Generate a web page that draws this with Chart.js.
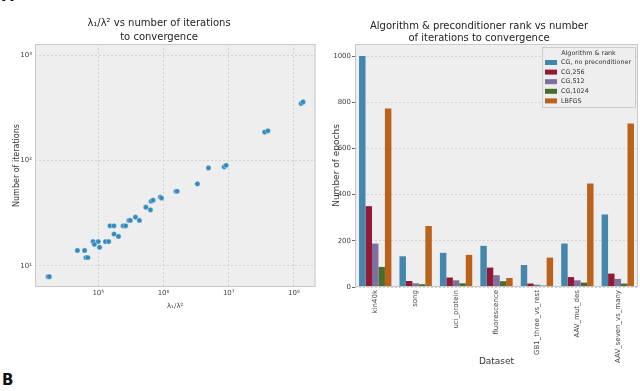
<!DOCTYPE html>
<html>
<head>
<meta charset="utf-8">
<script src="https://cdn.jsdelivr.net/npm/chart.js@4.4.0/dist/chart.umd.min.js"></script>
<style>
  body { margin: 0; background: #fff; width: 640px; height: 391px; overflow: hidden; position: relative; font-family: 'DejaVu Sans', sans-serif; }
  #left { position: absolute; left: 0; top: 0; }
  #right { position: absolute; left: 320px; top: 0; }
  .panel { position: absolute; left: 2px; font-weight: bold; font-size: 15px; color: #111; }
</style>
</head>
<body>
<div class="panel" style="top:-13px">A</div>
<canvas id="left" width="320" height="330"></canvas>
<canvas id="right" width="320" height="380"></canvas>
<div class="panel" style="top:371px">B</div>
<script>
// panel A: ratio vs iterations (log-log scatter)
const ratioValues = [17000, 17800, 47900, 61700, 64600, 69200, 83200, 87100, 100000, 104700,
  128800, 144500, 151400, 173800, 174500, 204200, 239900, 263000, 295100, 309000,
  371500, 426600, 537000, 631000, 645700, 691800, 891300, 933300, 1549000, 1622000,
  3311000, 4898000, 8511000, 9120000, 35480000, 39810000, 128800000, 138000000];
const iterationValues = [7.9, 7.9, 14, 14, 12, 12, 17, 16, 17, 15,
  17, 17, 24, 24, 20, 19, 24, 24, 27, 27,
  29, 27, 36, 34, 41, 42, 45, 44, 51, 51,
  60, 85, 87, 90, 186, 191, 347, 359];
const xTickValues = [1e5, 1e6, 1e7, 1e8];
const xTickLabels = ['10\u2075', '10\u2076', '10\u2077', '10\u2078'];
const yTickValues = [10, 100, 1000];
const yTickLabels = ['10\u00b9', '10\u00b2', '10\u00b3'];

// panel B: epochs per dataset and algorithm
const datasetNames = ['kin40k', 'song', 'uci_protein', 'fluorescence', 'GB1_three_vs_rest', 'AAV_mut_des', 'AAV_seven_vs_many'];
const algoLabels = ['CG, no preconditioner', 'CG,256', 'CG,512', 'CG,1024', 'LBFGS'];
const cgNone = [1000, 133, 148, 178, 95, 188, 314];
const cg256 = [350, 26, 41, 84, 15, 43, 58];
const cg512 = [188, 16, 29, 51, 10, 29, 35];
const cg1024 = [87, 12, 16, 25, 6, 19, 15];
const lbfgs = [773, 264, 139, 39, 127, 448, 708];
const algoColors = ['#4586ac', '#921a34', '#7d709e', '#486d2c', '#ba611b'];

Chart.defaults.font.family = "'DejaVu Sans', sans-serif";
Chart.defaults.color = '#444';

const frame = {
  id: 'frame',
  beforeDraw(chart) {
    const a = chart.chartArea, ctx = chart.ctx;
    ctx.save();
    ctx.fillStyle = '#eeeeee';
    ctx.fillRect(a.left, a.top, a.right - a.left, a.bottom - a.top);
    ctx.restore();
  },
  afterDraw(chart) {
    const a = chart.chartArea, ctx = chart.ctx;
    ctx.save();
    ctx.strokeStyle = '#c8c8c8';
    ctx.lineWidth = 1;
    ctx.strokeRect(a.left + 0.5, a.top + 0.5, a.right - a.left - 1, a.bottom - a.top - 1);
    ctx.restore();
  }
};

const insideLegend = {
  id: 'insideLegend',
  afterDraw(chart) {
    const opts = chart.options.plugins.insideLegend;
    if (!opts || !opts.display) return;
    const ctx = chart.ctx, a = chart.chartArea;
    const w = 93, h = 60;
    const x = a.right - w - 3, y = a.top + 3;
    ctx.save();
    ctx.fillStyle = '#eeeeee';
    ctx.strokeStyle = '#cccccc';
    ctx.fillRect(x, y, w, h);
    ctx.strokeRect(x + 0.5, y + 0.5, w, h);
    ctx.font = "6.4px 'DejaVu Sans'";
    ctx.fillStyle = '#333';
    ctx.textBaseline = 'middle';
    ctx.textAlign = 'center';
    ctx.fillText(opts.title, x + w / 2, y + 6);
    ctx.textAlign = 'left';
    chart.data.datasets.forEach((ds, i) => {
      const ry = y + 15.5 + i * 9.6;
      ctx.fillStyle = ds.backgroundColor;
      ctx.fillRect(x + 3, ry - 2.5, 12, 5);
      ctx.fillStyle = '#333';
      ctx.fillText(ds.label, x + 19, ry);
    });
    ctx.restore();
  }
};

Chart.register(frame, insideLegend);

function logTicks(min, max, majors) {
  const out = [];
  for (let d = Math.floor(Math.log10(min)); d <= Math.ceil(Math.log10(max)); d++) {
    for (let m = 1; m < 10; m++) {
      const v = m * Math.pow(10, d);
      if (v >= min && v <= max) out.push({ value: v, major: majors.includes(v) });
    }
  }
  return out;
}

const gridColor = ctx => (ctx.tick && ctx.tick.major) ? '#d2d2d2' : 'rgba(0,0,0,0)';

new Chart(document.getElementById('left').getContext('2d'), {
  type: 'scatter',
  data: {
    datasets: [{
      data: ratioValues.map((v, i) => ({ x: v, y: iterationValues[i] })),
      backgroundColor: '#348abd',
      borderColor: 'rgba(255,255,255,0.7)',
      borderWidth: 0.5,
      pointRadius: 2.6,
    }]
  },
  options: {
    responsive: false,
    animation: false,
    layout: { padding: { left: 0, right: 2, top: 0, bottom: 0 } },
    plugins: {
      legend: { display: false },
      tooltip: { enabled: false },
      title: {
        display: true,
        text: ['\u03bb\u2081/\u03bb\u00b2 vs number of iterations', 'to convergence'],
        color: '#222',
        font: { size: 10, weight: 'normal', lineHeight: 1.4 },
        padding: { top: 16, bottom: 0 }
      }
    },
    scales: {
      x: {
        type: 'logarithmic',
        min: 10715,
        max: 213800000,
        afterFit: s => { s.height = 43; },
        afterBuildTicks: s => { s.ticks = logTicks(s.min, s.max, xTickValues); },
        ticks: {
          autoSkip: false, maxRotation: 0, padding: 2,
          font: { size: 7 }, color: '#444',
          callback: v => { const i = xTickValues.indexOf(v); return i >= 0 ? xTickLabels[i] : ''; }
        },
        grid: { color: gridColor, drawTicks: false },
        border: { display: false, dash: [2, 2] },
        title: {
          display: true, text: '\u03bb\u2081/\u03bb\u00b2', color: '#444',
          font: { size: 7 }, padding: { top: 0, bottom: 20 }
        }
      },
      y: {
        type: 'logarithmic',
        min: 6.3,
        max: 1273,
        afterFit: s => { s.width = 35; },
        afterBuildTicks: s => { s.ticks = logTicks(s.min, s.max, yTickValues); },
        ticks: {
          autoSkip: false, padding: 3,
          font: { size: 7 }, color: '#444',
          callback: v => { const i = yTickValues.indexOf(v); return i >= 0 ? yTickLabels[i] : ''; }
        },
        grid: { color: gridColor, drawTicks: false },
        border: { display: false, dash: [2, 2] },
        title: {
          display: true, text: 'Number of iterations', color: '#333',
          font: { size: 8 }, padding: { top: 12, bottom: 0 }
        }
      }
    }
  }
});

const algoSeries = [cgNone, cg256, cg512, cg1024, lbfgs];

new Chart(document.getElementById('right').getContext('2d'), {
  type: 'bar',
  data: {
    labels: datasetNames,
    datasets: algoSeries.map((vals, i) => ({
      label: algoLabels[i],
      data: vals,
      backgroundColor: algoColors[i],
      borderWidth: 0,
      categoryPercentage: 0.8,
      barPercentage: 1.0
    }))
  },
  options: {
    responsive: false,
    animation: false,
    layout: { padding: { left: 0, right: 2, top: 0, bottom: 0 } },
    plugins: {
      legend: { display: false },
      tooltip: { enabled: false },
      insideLegend: { display: true, title: 'Algorithm & rank' },
      title: {
        display: true,
        text: ['Algorithm & preconditioner rank vs number', 'of iterations to convergence'],
        color: '#222',
        font: { size: 10, weight: 'normal', lineHeight: 1.15 },
        padding: { top: 21, bottom: 0 }
      }
    },
    scales: {
      x: {
        afterFit: s => { s.height = 93; },
        ticks: { autoSkip: false, minRotation: 90, maxRotation: 90, padding: 3, font: { size: 7 }, color: '#444' },
        grid: { display: false, drawTicks: false },
        border: { display: false },
        title: {
          display: true, text: 'Dataset', color: '#333',
          font: { size: 9 }, padding: { top: 0, bottom: 13 }
        }
      },
      y: {
        min: 0,
        max: 1052,
        afterFit: s => { s.width = 35; },
        ticks: { stepSize: 200, includeBounds: false, padding: 1, font: { size: 7 }, color: '#444', callback: v => String(v) },
        grid: { color: '#d2d2d2', tickColor: '#666', tickLength: 3 },
        border: { display: false, dash: [2, 2] },
        title: {
          display: true, text: 'Number of epochs', color: '#333',
          font: { size: 9 }, padding: { top: 11, bottom: 0 }
        }
      }
    }
  }
});
</script>
</body>
</html>
